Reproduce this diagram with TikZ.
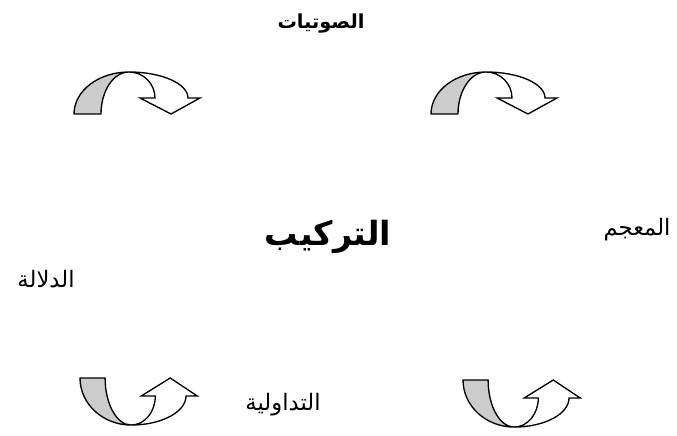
\documentclass[tikz,border=0pt]{standalone}
\usepackage{fontspec}
\newfontfamily\arabicfont[Script=Arabic]{DejaVu Sans}
\TeXXeTstate=1
\usepackage{tikz}
\usetikzlibrary{positioning}
\tikzset{
  arword/.style={font=\arabicfont\fontsize{17}{20}\selectfont, inner sep=1pt},
  arbold/.style={font=\arabicfont\bfseries\fontsize{14.5}{17}\selectfont, inner sep=1pt},
  arbig/.style={font=\arabicfont\bfseries\fontsize{25}{28}\selectfont, inner sep=1pt},
  backband/.style={draw, fill=gray!40, line width=1pt, line join=round},
  frontband/.style={draw, fill=white, line width=1pt, line join=miter},
}
% curved arrow: #1 = origin, #2 = xscale, #3 = yscale
\newcommand{\curvedarrow}[3]{%
  \begin{scope}[shift={#1}, xscale=#2, yscale=#3]
    \draw[backband] (0,0) arc[start angle=180, end angle=90, x radius=55, y radius=42]
      arc[start angle=90, end angle=180, x radius=28, y radius=42] -- cycle;
    \draw[frontband] (55,42) arc[start angle=90, end angle=0, x radius=59, y radius=26]
      -- (126,16) -- (97,0) -- (66,16) -- (81,16)
      arc[start angle=0, end angle=90, x radius=26, y radius=26] -- cycle;
  \end{scope}}

\begin{document}
\begin{tikzpicture}[x=0.75pt, y=0.75pt]
  \useasboundingbox (0,0) rectangle (677,435);

  % Labels
  \node[arbold] (phon) at (321,411) {\beginR الصوتيات\endR};
  \node[arbig] (syntax) at (328,198) {\beginR التركيب\endR};
  \node[arword] (lexicon) at (637,205) {\beginR المعجم\endR};
  \node[arword] (semantics) at (46,156) {\beginR الدلالة\endR};
  \node[arword] (pragmatics) at (283,30) {\beginR التداولية\endR};

  % Top arrows
  \curvedarrow{(74,321)}{1}{1}
  \curvedarrow{(431,321)}{1}{1}

  % Bottom arrows
  \curvedarrow{(80,57)}{0.93}{-1.12}
  \curvedarrow{(463,55)}{0.93}{-1.12}
\end{tikzpicture}
\end{document}
